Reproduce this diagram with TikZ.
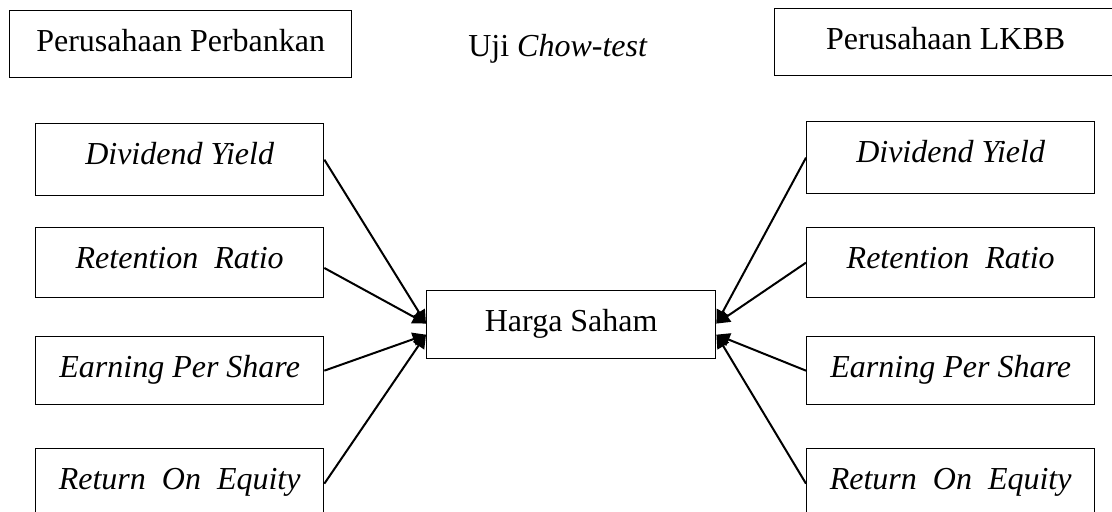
\documentclass[tikz,border=0pt]{standalone}
\usepackage{fontspec}
\setmainfont{Liberation Serif}
\usetikzlibrary{arrows.meta}
\begin{document}
\begin{tikzpicture}[x=0.375pt,y=-0.375pt,
  box/.style={draw, line width=0.5pt, inner sep=0pt, anchor=north west,
    align=center, font=\fontsize{12}{14}\selectfont, text height=15.375pt},
  wide/.style={box, minimum width=128.25pt, text depth=9.75pt},
  varbox/.style={box, minimum width=108pt, text depth=10.875pt},
  link/.style={line width=0.75pt, -{Triangle[length=5pt,width=5pt]}}]
\useasboundingbox (0,0) rectangle (1112,512);
\begin{scope}
\clip (0,0) rectangle (1112,512);
% group headers
\node[wide] (bank) at (9,10) {Perusahaan Perbankan};
\node[wide] (lkbb) at (774,8) {Perusahaan LKBB};
\node[font=\fontsize{12}{14}\selectfont, anchor=base] (chow) at (558,57) {Uji \textit{Chow-test}};
% dependent variable
\node[box, minimum width=108.4pt, text depth=10.125pt] (hs) at (426,290) {Harga Saham};
% independent variables, banking group
\node[varbox, text depth=11.625pt] (dyL) at (35,123) {\textit{Dividend Yield}};
\node[varbox] (rrL) at (35,227) {\textit{Retention\ \ Ratio}};
\node[varbox, text depth=10.125pt] (epsL) at (35,336) {\textit{Earning Per Share}};
\node[varbox] (roeL) at (35,448) {\textit{Return\ \ On\ \ Equity}};
% independent variables, LKBB group
\node[varbox, text depth=11.625pt] (dyR) at (806,121) {\textit{Dividend Yield}};
\node[varbox] (rrR) at (806,227) {\textit{Retention\ \ Ratio}};
\node[varbox, text depth=10.125pt] (epsR) at (806,336) {\textit{Earning Per Share}};
\node[varbox] (roeR) at (806,448) {\textit{Return\ \ On\ \ Equity}};
% arrow landing points on the dependent box
\coordinate (inLu) at ([yshift=0.4pt]hs.west);
\coordinate (inLd) at ([yshift=-3.75pt]hs.west);
\coordinate (inRu) at ([yshift=0.4pt]hs.east);
\coordinate (inRd) at ([yshift=-3.75pt]hs.east);
\draw[link] (dyL.east) -- (inLu);
\draw[link] ([yshift=-2pt]rrL.east) -- (inLu);
\draw[link] (epsL.east) -- (inLd);
\draw[link] (roeL.east) -- (inLd);
\draw[link] (dyR.west) -- (inRu);
\draw[link] (rrR.west) -- (inRu);
\draw[link] (epsR.west) -- (inRd);
\draw[link] (roeR.west) -- (inRd);
\end{scope}
\end{tikzpicture}
\end{document}
